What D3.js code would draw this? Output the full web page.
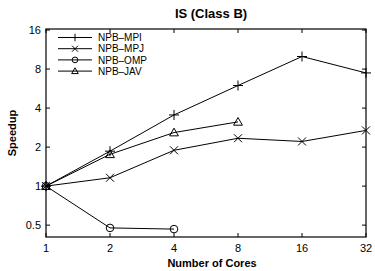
<!DOCTYPE html>
<html>
<head>
<meta charset="utf-8">
<script src="https://cdn.jsdelivr.net/npm/d3@7"></script>
<style>
  body { margin: 0; background: #fff; }
  text { font-family: "Liberation Sans", Arial, sans-serif; }
</style>
</head>
<body>
<svg id="chart" width="375" height="271"></svg>
<script>
const cores = [1, 2, 4, 8, 16, 32];
const yTicks = [0.5, 1, 2, 4, 8, 16];

const mpi = [1, 1.86, 3.54, 5.97, 10.0, 7.47];
const mpj = [1, 1.16, 1.89, 2.34, 2.21, 2.69];
const omp = [1, 0.476, 0.466];
const jav = [1, 1.76, 2.59, 3.13];

const seriesNames = ["NPB\u2013MPI", "NPB\u2013MPJ", "NPB\u2013OMP", "NPB\u2013JAV"];
const seriesVals = [mpi, mpj, omp, jav];
const markers = ["plus", "cross", "circle", "triangle"];

const width = 375;
const height = 271;
const margin = {left: 46, right: 9, top: 29, bottom: 34};

const svg = d3.select("#chart");

const x = d3.scaleLog().base(2)
    .domain([1, 32])
    .range([margin.left, width - margin.right]);

const y = d3.scaleLog().base(2)
    .domain([0.405, 16.3])
    .range([height - margin.bottom, margin.top]);

const x0 = margin.left, x1 = width - margin.right;
const y0 = height - margin.bottom, y1 = margin.top;

// ticks, inward on all sides
const tk = 4;
const g = svg.append("g");
cores.forEach(c => {
    g.append("line").attr("x1", x(c)).attr("x2", x(c)).attr("y1", y0).attr("y2", y0 - tk).attr("stroke", "#000");
    g.append("line").attr("x1", x(c)).attr("x2", x(c)).attr("y1", y1).attr("y2", y1 + tk).attr("stroke", "#000");
    g.append("text").attr("x", x(c)).attr("y", y0 + 15)
        .attr("text-anchor", "middle").attr("font-size", 11).text(c);
});
yTicks.forEach(v => {
    g.append("line").attr("x1", x0).attr("x2", x0 + tk).attr("y1", y(v)).attr("y2", y(v)).attr("stroke", "#000");
    g.append("line").attr("x1", x1).attr("x2", x1 - tk).attr("y1", y(v)).attr("y2", y(v)).attr("stroke", "#000");
    g.append("text").attr("x", x0 - 5).attr("y", y(v) + 4)
        .attr("text-anchor", "end").attr("font-size", 11).text(v);
});

svg.append("rect")
    .attr("x", x0).attr("y", y1)
    .attr("width", x1 - x0).attr("height", y0 - y1)
    .attr("fill", "none").attr("stroke", "#000").attr("stroke-width", 1.2);

function drawMarker(sel, type, cx, cy, k) {
    const s = 5 * k;
    if (type == "plus") {
        sel.append("path").attr("d", `M${cx - s},${cy}H${cx + s}M${cx},${cy - s}V${cy + s}`)
            .attr("stroke", "#000").attr("fill", "none");
    } else if (type == "cross") {
        const r = 4 * k;
        sel.append("path").attr("d", `M${cx - r},${cy - r}L${cx + r},${cy + r}M${cx - r},${cy + r}L${cx + r},${cy - r}`)
            .attr("stroke", "#000").attr("fill", "none");
    } else if (type == "circle") {
        sel.append("circle").attr("cx", cx).attr("cy", cy).attr("r", 3.8 * k)
            .attr("stroke", "#000").attr("fill", "none");
    } else {
        const r = 4.4 * k;
        sel.append("path").attr("d", `M${cx},${cy - r}L${cx + r},${cy + r * 0.75}L${cx - r},${cy + r * 0.75}Z`)
            .attr("stroke", "#000").attr("fill", "none");
    }
}

const line = d3.line().x(d => x(d[0])).y(d => y(d[1]));

seriesVals.forEach((vals, i) => {
    const pts = vals.map((v, j) => [cores[j], v]);
    svg.append("path").attr("d", line(pts))
        .attr("fill", "none").attr("stroke", "#000").attr("stroke-width", 1);
    pts.forEach(p => drawMarker(svg, markers[i], x(p[0]), y(p[1]), 1));
});

// legend
const legY = [37.5, 48.7, 59.9, 71.1];
seriesNames.forEach((name, i) => {
    svg.append("line").attr("x1", 58).attr("x2", 92).attr("y1", legY[i]).attr("y2", legY[i])
        .attr("stroke", "#000");
    drawMarker(svg, markers[i], 75, legY[i], 0.75);
    svg.append("text").attr("x", 98).attr("y", legY[i] + 3.6)
        .attr("font-size", 10).text(name);
});

svg.append("text").attr("x", 211).attr("y", 18)
    .attr("text-anchor", "middle").attr("font-size", 13).attr("font-weight", "bold")
    .text("IS (Class B)");

svg.append("text").attr("x", 212).attr("y", 267)
    .attr("text-anchor", "middle").attr("font-size", 11).attr("font-weight", "bold")
    .text("Number of Cores");

svg.append("text")
    .attr("transform", `translate(16,${(y0 + y1) / 2}) rotate(-90)`)
    .attr("text-anchor", "middle").attr("font-size", 11).attr("font-weight", "bold")
    .text("Speedup");
</script>
</body>
</html>
